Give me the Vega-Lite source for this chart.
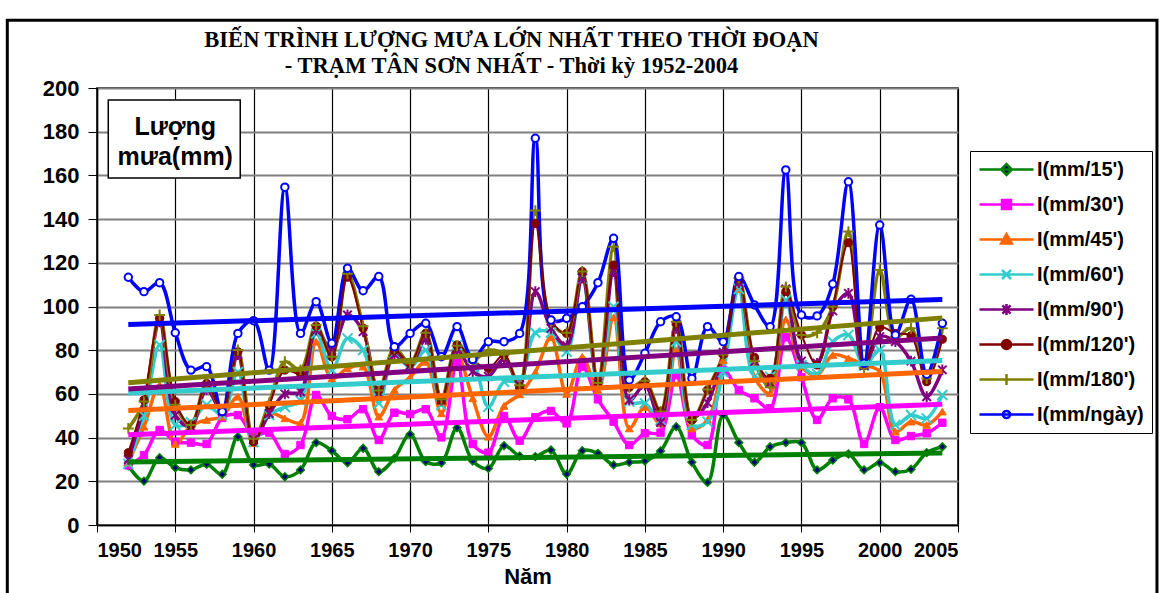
{
"$schema": "https://vega.github.io/schema/vega-lite/v6.json",
"width": 861, "height": 437,
"autosize": {"type": "none"},
"padding": {"left": 97, "top": 88, "right": 203, "bottom": 68},
"background": "white",
"title": {"text": ["BIẾN TRÌNH LƯỢNG MƯA LỚN NHẤT THEO THỜI ĐOẠN", "- TRẠM TÂN SƠN NHẤT - Thời kỳ 1952-2004"], "font": "Liberation Serif", "fontSize": 22.5, "fontWeight": "bold", "lineHeight": 26, "offset": -59, "dx": -16, "color": "#000", "anchor": "middle"},
"datasets": {"rain": [
{"year":1952,"k15":27.1,"k30":27.3,"k45":28.5,"k60":28,"k90":30,"k120":33.1,"k180":44.2,"kday":113.4},
{"year":1953,"k15":20.1,"k30":32.0,"k45":45,"k60":50,"k90":55,"k120":57.2,"k180":56.5,"kday":106.8},
{"year":1954,"k15":30.8,"k30":43.5,"k45":64,"k60":82.4,"k90":93,"k120":94.6,"k180":96.1,"kday":110.9},
{"year":1955,"k15":26.2,"k30":38.1,"k45":37.1,"k60":45.8,"k90":50.3,"k120":56.5,"k180":55,"kday":88.0},
{"year":1956,"k15":25.2,"k30":37.7,"k45":45.3,"k60":47,"k90":45,"k120":45.8,"k180":45.8,"kday":70.9},
{"year":1957,"k15":27.8,"k30":37.1,"k45":48.1,"k60":55,"k90":62,"k120":64.8,"k180":65,"kday":72.5},
{"year":1958,"k15":23.2,"k30":49,"k45":49.6,"k60":50.3,"k90":52,"k120":51.9,"k180":52,"kday":51.9},
{"year":1959,"k15":40.4,"k30":50.3,"k45":58.7,"k60":70,"k90":78,"k120":79.3,"k180":80.1,"kday":87.7},
{"year":1960,"k15":27.5,"k30":41,"k45":37.4,"k60":38,"k90":39,"k120":38.1,"k180":39.5,"kday":93.5},
{"year":1961,"k15":27.9,"k30":42.3,"k45":51.1,"k60":50.3,"k90":51,"k120":54.9,"k180":56,"kday":70.9},
{"year":1962,"k15":22.1,"k30":32.5,"k45":48.8,"k60":54,"k90":60,"k120":70.9,"k180":74.7,"kday":154.6},
{"year":1963,"k15":25.2,"k30":36.6,"k45":46.8,"k60":57,"k90":61,"k120":69.4,"k180":71,"kday":87.7},
{"year":1964,"k15":37.7,"k30":59.5,"k45":83.9,"k60":87.7,"k90":89.2,"k120":91,"k180":91.5,"kday":102.2},
{"year":1965,"k15":34.0,"k30":49.9,"k45":67,"k60":70.9,"k90":80,"k120":77.0,"k180":77,"kday":83.2},
{"year":1966,"k15":28.5,"k30":48.4,"k45":71.7,"k60":85.4,"k90":96.1,"k120":113.4,"k180":115,"kday":117.5},
{"year":1967,"k15":35.1,"k30":53.0,"k45":72.5,"k60":80.1,"k90":88.5,"k120":90.0,"k180":91,"kday":107.2},
{"year":1968,"k15":24.4,"k30":38.9,"k45":49.6,"k60":55.7,"k90":60.3,"k120":61.5,"k180":61.5,"kday":113.7},
{"year":1969,"k15":30.5,"k30":51.4,"k45":61.8,"k60":78.6,"k90":78,"k120":80,"k180":81,"kday":81.6},
{"year":1970,"k15":41.5,"k30":50.8,"k45":67.6,"k60":72,"k90":73,"k120":74.0,"k180":74,"kday":87.7},
{"year":1971,"k15":29.0,"k30":53.0,"k45":74.7,"k60":80.1,"k90":85,"k120":87.7,"k180":88,"kday":92.3},
{"year":1972,"k15":28.5,"k30":40.1,"k45":51.1,"k60":54.9,"k90":57.2,"k120":57,"k180":57.5,"kday":77.0},
{"year":1973,"k15":44.5,"k30":74.7,"k45":77.8,"k60":82.4,"k90":80,"k120":82.4,"k180":82,"kday":90.8},
{"year":1974,"k15":29.3,"k30":37.1,"k45":58.0,"k60":76.3,"k90":70.2,"k120":75.5,"k180":75.5,"kday":75.8},
{"year":1975,"k15":25.9,"k30":33.1,"k45":40.4,"k60":54.1,"k90":68,"k120":71.7,"k180":80,"kday":83.9},
{"year":1976,"k15":36.3,"k30":49.9,"k45":54.5,"k60":65.6,"k90":76,"k120":77.8,"k180":78,"kday":83.9},
{"year":1977,"k15":31.6,"k30":38.6,"k45":59.8,"k60":66,"k90":64.1,"k120":63.3,"k180":64,"kday":87.7},
{"year":1978,"k15":31.3,"k30":49.3,"k45":70,"k60":88,"k90":106.8,"k120":138.0,"k180":143.9,"kday":177.0},
{"year":1979,"k15":34.3,"k30":52.2,"k45":85.9,"k60":88,"k90":90,"k120":93.8,"k180":93,"kday":93.8},
{"year":1980,"k15":23.3,"k30":46.5,"k45":60.0,"k60":79.3,"k90":82,"k120":87.7,"k180":88,"kday":94.6},
{"year":1981,"k15":34.0,"k30":72.5,"k45":77.0,"k60":112.9,"k90":113,"k120":116,"k180":116,"kday":99.9},
{"year":1982,"k15":32.8,"k30":57.5,"k45":61.8,"k60":64.1,"k90":65,"k120":64.8,"k180":65,"kday":110.9},
{"year":1983,"k15":27.5,"k30":47.3,"k45":95,"k60":99.9,"k90":116,"k120":119,"k180":127.4,"kday":131.2},
{"year":1984,"k15":28.7,"k30":36.6,"k45":44.2,"k60":56.5,"k90":57.2,"k120":63.0,"k180":63,"kday":66.4},
{"year":1985,"k15":29.3,"k30":42.0,"k45":54.1,"k60":55.7,"k90":64,"k120":65.6,"k180":66,"kday":78.6},
{"year":1986,"k15":33.9,"k30":42.3,"k45":46.5,"k60":48.1,"k90":47,"k120":51.9,"k180":52,"kday":93.0},
{"year":1987,"k15":45.0,"k30":68.6,"k45":80,"k60":83.9,"k90":90.0,"k120":92.3,"k180":93,"kday":95.3},
{"year":1988,"k15":28.7,"k30":41.2,"k45":44.2,"k60":45.8,"k90":49,"k120":48.1,"k180":48,"kday":67.1},
{"year":1989,"k15":19.5,"k30":36.6,"k45":48.1,"k60":47.3,"k90":56,"k120":61.8,"k180":62,"kday":90.8},
{"year":1990,"k15":50.3,"k30":70.9,"k45":75.5,"k60":70,"k90":79,"k120":78,"k180":78,"kday":83.9},
{"year":1991,"k15":37.7,"k30":61.8,"k45":108,"k60":108,"k90":111,"k120":112.9,"k180":113,"kday":113.7},
{"year":1992,"k15":28.7,"k30":58.0,"k45":67.6,"k60":68,"k90":74.7,"k120":76.7,"k180":75,"kday":100.7},
{"year":1993,"k15":35.8,"k30":53.4,"k45":60.3,"k60":67.9,"k90":65,"k120":67.1,"k180":63,"kday":90.8},
{"year":1994,"k15":37.7,"k30":85.9,"k45":94.1,"k60":103.0,"k90":108,"k120":106.8,"k180":109,"kday":162.5},
{"year":1995,"k15":37.7,"k30":67.6,"k45":72.5,"k60":73.2,"k90":75,"k120":87.0,"k180":87,"kday":96.1},
{"year":1996,"k15":25.2,"k30":48.1,"k45":68.6,"k60":69.1,"k90":74,"k120":73.2,"k180":88,"kday":95.7},
{"year":1997,"k15":29.7,"k30":58.0,"k45":77.8,"k60":83.9,"k90":98,"k120":99.9,"k180":100,"kday":110.3},
{"year":1998,"k15":32.5,"k30":57.5,"k45":76.3,"k60":87.0,"k90":106,"k120":129.2,"k180":134.3,"kday":157.1},
{"year":1999,"k15":25.2,"k30":37.1,"k45":73.2,"k60":73,"k90":73,"k120":73,"k180":72,"kday":74},
{"year":2000,"k15":28.5,"k30":53.9,"k45":70.2,"k60":80.1,"k90":86.2,"k120":90.5,"k180":116.7,"kday":137.3},
{"year":2001,"k15":24.4,"k30":38.9,"k45":42.7,"k60":45.8,"k90":84,"k120":87.7,"k180":86,"kday":87},
{"year":2002,"k15":25.5,"k30":40.7,"k45":47.3,"k60":50.3,"k90":75,"k120":86.5,"k180":90,"kday":103.3},
{"year":2003,"k15":33.1,"k30":42.0,"k45":45.8,"k60":48.8,"k90":58.7,"k120":65.6,"k180":67,"kday":69},
{"year":2004,"k15":35.8,"k30":46.8,"k45":51.9,"k60":59.5,"k90":71,"k120":85,"k180":90,"kday":92.3}
]},
"layer": [
{"data": {"name": "rain"},
 "transform": [{"fold": ["k15","k30","k45","k60","k90","k120","k180","kday"], "as": ["series","value"]}, {"filter": "datum.series != 'k120'"}],
 "mark": {"type": "line", "interpolate": "catmull-rom", "strokeWidth": 3.5},
 "encoding": {
  "x": {"field": "year", "type": "quantitative", "scale": {"domain": [1950, 2005], "zero": false},
        "axis": {"values": [1950,1955,1960,1965,1970,1975,1980,1985,1990,1995,2000,2005], "format": "d", "labelFontSize": 20, "tickSize": 7, "labelPadding": 8, "gridColor": "#000", "gridWidth": 1.2, "title": "Năm", "titleFontSize": 22, "titleFontWeight": "bold", "titlePadding": 6, "titleColor": "#000"}},
  "y": {"field": "value", "type": "quantitative", "scale": {"domain": [0, 200]},
        "axis": {"values": [0,20,40,60,80,100,120,140,160,180,200], "labelFontSize": 22, "tickSize": 9, "labelPadding": 9, "gridColor": "#808080", "gridWidth": 2, "title": null}},
  "color": {"field": "series", "type": "nominal",
   "scale": {"domain": ["k15","k30","k45","k60","k90","k120","k180","kday"], "range": ["#008000","#FF00FF","#FF6600","#33CCCC","#800080","#800000","#808000","#0000FF"]},
   "legend": {"title": null, "orient": "none", "legendX": 873, "legendY": 63, "strokeColor": "#000", "padding": 8, "fillColor": "#fff",
     "labelFont": "Liberation Sans", "labelFontSize": 20, "labelFontWeight": "bold", "labelColor": "#000", "labelLimit": 300,
     "symbolSize": 324, "symbolStrokeWidth": 2.5, "rowPadding": 14, "symbolOffset": 18, "labelOffset": 20,
     "labelExpr": "[\"I(mm/15')\",\"I(mm/30')\",\"I(mm/45')\",\"I(mm/60')\",\"I(mm/90')\",\"I(mm/120')\",\"I(mm/180')\",\"I(mm/ngày)\"][indexof(domain('color'), datum.value)]"
   }}
 }},
{"data": {"values": [{"t": 1}]}, "mark": {"type": "rect", "fillOpacity": 0, "stroke": "#000", "strokeWidth": 3},
 "encoding": {"x": {"datum": 1944.27, "type": "quantitative", "scale": {"domain": [1950, 2005], "zero": false}}, "x2": {"datum": 2017.71}, "y": {"datum": 231, "type": "quantitative", "scale": {"domain": [0, 200]}}, "y2": {"datum": -35}}},
{"data": {"name": "rain"},
 "transform": [{"fold": ["k15","k30","k45","k60","k90","k120","k180","kday"], "as": ["series","value"]}, {"filter": "datum.series == 'k120'"}],
 "mark": {"type": "line", "interpolate": "catmull-rom", "strokeWidth": 2},
 "encoding": {
  "x": {"field": "year", "type": "quantitative"},
  "y": {"field": "value", "type": "quantitative"},
  "color": {"field": "series", "type": "nominal"}
 }},
{"data": {"name": "rain"},
 "transform": [{"fold": ["k15","k30","k45","k60","k90","k120","k180","kday"], "as": ["series","value"]}, {"filter": "false"}],
 "mark": {"type": "point", "filled": false, "strokeWidth": 2.5, "opacity": 1},
 "encoding": {
  "x": {"field": "year", "type": "quantitative"},
  "y": {"field": "value", "type": "quantitative"},
  "color": {"field": "series", "type": "nominal"},
  "shape": {"field": "series", "type": "nominal",
    "scale": {"domain": ["k15","k30","k45","k60","k90","k120","k180","kday"], "range": ["M-3,0L3,0M0,-0.6L0.6,0L0,0.6L-0.6,0Z","M-3,0L3,0M-0.5,-0.5L0.5,-0.5L0.5,0.5L-0.5,0.5Z","M-3,0L3,0M0,-0.6L0.6,0.45L-0.6,0.45Z","M-3,0L3,0M-0.5,-0.5L0.5,0.5M-0.5,0.5L0.5,-0.5","M-3,0L3,0M-0.45,-0.45L0.45,0.45M-0.45,0.45L0.45,-0.45M0,-0.6L0,0.6","M-3,0L3,0M-0.5,0A0.5,0.5 0 1,0 0.5,0A0.5,0.5 0 1,0 -0.5,0Z","M-3,0L3,0M0,-0.6L0,0.6","M-3,0L3,0M-0.4,0A0.4,0.4 0 1,0 0.4,0A0.4,0.4 0 1,0 -0.4,0Z"]}},
  "fill": {"field": "series", "type": "nominal",
    "scale": {"domain": ["k15","k30","k45","k60","k90","k120","k180","kday"], "range": ["#000080","#FF00FF","#FF6600","transparent","transparent","#800000","transparent","#FFFFFF"]}}
 }},
{"data": {"name": "rain"},
 "mark": {"type": "point", "shape": "diamond", "size": 60, "fill": "#000080", "stroke": "#008000", "strokeWidth": 1.5, "opacity": 1},
 "encoding": {"x": {"field": "year", "type": "quantitative"}, "y": {"field": "k15", "type": "quantitative"}}},
{"data": {"name": "rain"},
 "mark": {"type": "point", "shape": "square", "size": 55, "fill": "#FF00FF", "stroke": "#FF00FF", "strokeWidth": 1, "opacity": 1},
 "encoding": {"x": {"field": "year", "type": "quantitative"}, "y": {"field": "k30", "type": "quantitative"}}},
{"data": {"name": "rain"},
 "mark": {"type": "point", "shape": "triangle-up", "size": 60, "fill": "#FF6600", "stroke": "#FF6600", "strokeWidth": 1, "opacity": 1},
 "encoding": {"x": {"field": "year", "type": "quantitative"}, "y": {"field": "k45", "type": "quantitative"}}},
{"data": {"name": "rain"},
 "mark": {"type": "point", "shape": "M-1.3,-1.3L1.3,1.3M-1.3,1.3L1.3,-1.3", "size": 60, "fill": "transparent", "stroke": "#33CCCC", "strokeWidth": 2, "opacity": 1},
 "encoding": {"x": {"field": "year", "type": "quantitative"}, "y": {"field": "k60", "type": "quantitative"}}},
{"data": {"name": "rain"},
 "mark": {"type": "point", "shape": "M-1.1,-1.1L1.1,1.1M-1.1,1.1L1.1,-1.1M0,-1.4L0,1.4", "size": 60, "fill": "transparent", "stroke": "#800080", "strokeWidth": 2, "opacity": 1},
 "encoding": {"x": {"field": "year", "type": "quantitative"}, "y": {"field": "k90", "type": "quantitative"}}},
{"data": {"name": "rain"},
 "mark": {"type": "point", "shape": "circle", "size": 65, "fill": "#800000", "stroke": "#800000", "strokeWidth": 1, "opacity": 1},
 "encoding": {"x": {"field": "year", "type": "quantitative"}, "y": {"field": "k120", "type": "quantitative"}}},
{"data": {"name": "rain"},
 "mark": {"type": "point", "shape": "M-1.4,0L1.4,0M0,-1.4L0,1.4", "size": 60, "fill": "transparent", "stroke": "#808000", "strokeWidth": 2, "opacity": 1},
 "encoding": {"x": {"field": "year", "type": "quantitative"}, "y": {"field": "k180", "type": "quantitative"}}},
{"data": {"name": "rain"},
 "mark": {"type": "point", "shape": "circle", "size": 55, "fill": "#FFFFFF", "stroke": "#0000FF", "strokeWidth": 2, "opacity": 1},
 "encoding": {"x": {"field": "year", "type": "quantitative"}, "y": {"field": "kday", "type": "quantitative"}}},
{"data": {"name": "rain"},
 "transform": [{"fold": ["k15","k30","k45","k60","k90","k120","k180","kday"], "as": ["series","value"]}, {"filter": "datum.series != 'k120'"}, {"regression": "value", "on": "year", "groupby": ["series"]}],
 "mark": {"type": "line", "strokeWidth": 5},
 "encoding": {
  "x": {"field": "year", "type": "quantitative"},
  "y": {"field": "value", "type": "quantitative"},
  "color": {"field": "series", "type": "nominal"}
 }},
{"data": {"values": [{"t": 1}]}, "mark": {"type": "rect", "fill": "#fff", "stroke": "#000", "strokeWidth": 1.5},
 "encoding": {"x": {"datum": 1950.72, "type": "quantitative", "scale": {"domain": [1950, 2005], "zero": false}}, "x2": {"datum": 1959.15}, "y": {"datum": 194.5, "type": "quantitative", "scale": {"domain": [0, 200]}}, "y2": {"datum": 158.8}}},
{"data": {"values": [{"t": 1}]}, "mark": {"type": "text", "font": "Liberation Sans", "fontWeight": "bold", "fontSize": 25, "align": "center", "baseline": "middle", "color": "#000"},
 "encoding": {"x": {"datum": 1955.0, "type": "quantitative", "scale": {"domain": [1950, 2005], "zero": false}}, "y": {"datum": 182, "type": "quantitative", "scale": {"domain": [0, 200]}}, "text": {"value": "Lượng"}}},
{"data": {"values": [{"t": 1}]}, "mark": {"type": "text", "font": "Liberation Sans", "fontWeight": "bold", "fontSize": 25, "align": "center", "baseline": "middle", "color": "#000"},
 "encoding": {"x": {"datum": 1955.0, "type": "quantitative", "scale": {"domain": [1950, 2005], "zero": false}}, "y": {"datum": 168.5, "type": "quantitative", "scale": {"domain": [0, 200]}}, "text": {"value": "mưa(mm)"}}}
],
"config": {
 "font": "Liberation Sans",
 "view": {"stroke": "#000", "strokeWidth": 1.5},
 "axis": {"labelFont": "Liberation Sans", "labelFontWeight": "bold", "labelColor": "#000", "domainColor": "#000", "tickColor": "#000", "titleFont": "Liberation Sans", "domainWidth": 1.5}
}
}
